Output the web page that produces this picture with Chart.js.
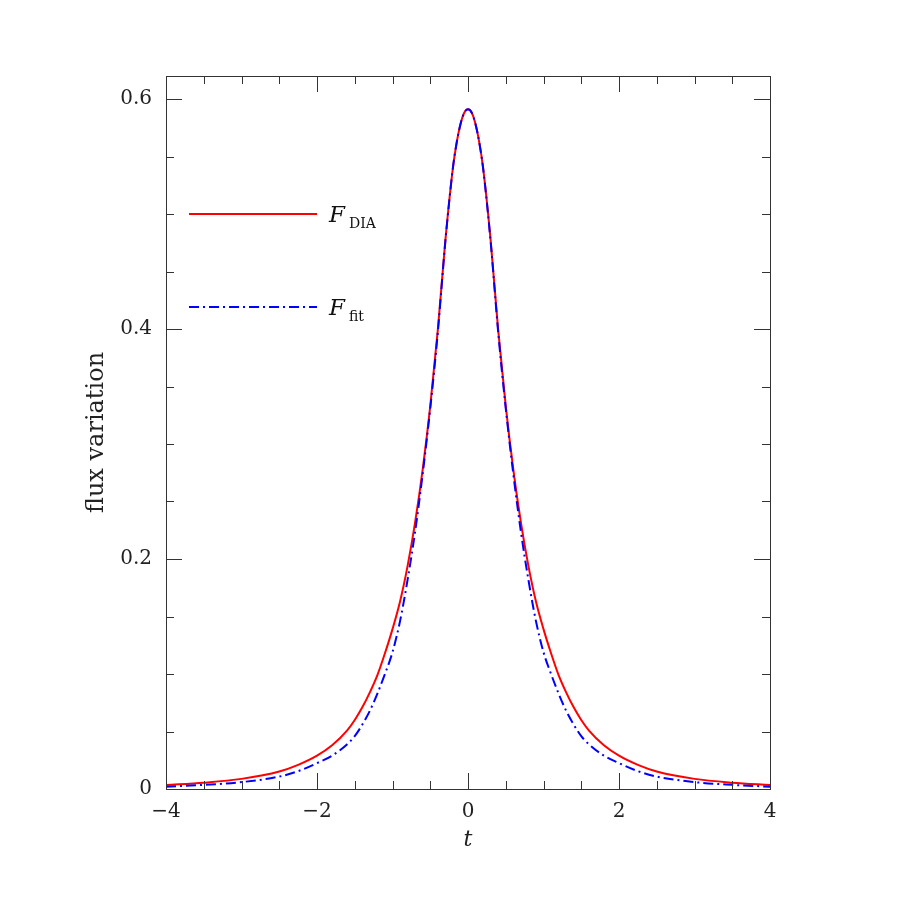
<!DOCTYPE html>
<html>
<head>
<meta charset="utf-8">
<title>flux variation</title>
<script src="https://cdn.jsdelivr.net/npm/chart.js@4/dist/chart.umd.min.js"></script>
<style>
  body { margin: 0; background: #fff }
  #wrap { width: 900px; height: 900px }
</style>
</head>
<body>
<div id="wrap"><canvas id="myChart" width="900" height="900"></canvas></div>
<script>
// valores
const tValues = [
  -4, -3.5, -3, -2.5, -2.25, -2, -1.8, -1.6, -1.5, -1.4, -1.3, -1.2, -1.1, -1,
  -0.9, -0.8, -0.7, -0.6, -0.5, -0.4, -0.3, -0.2, -0.15, -0.1, -0.05, 0,
  0.05, 0.1, 0.15, 0.2, 0.3, 0.4, 0.5, 0.6, 0.7, 0.8, 0.9, 1, 1.1, 1.2, 1.3,
  1.4, 1.5, 1.6, 1.8, 2, 2.25, 2.5, 3, 3.5, 4
]
const fluxDIA = [
  0.0035, 0.0055, 0.0088, 0.0152, 0.021, 0.029, 0.038, 0.051, 0.06, 0.071,
  0.084, 0.099, 0.118, 0.139, 0.163, 0.194, 0.232, 0.278, 0.333, 0.399, 0.477,
  0.54, 0.562, 0.578, 0.588, 0.591,
  0.588, 0.578, 0.562, 0.54, 0.477, 0.399, 0.333, 0.278, 0.232, 0.194, 0.163,
  0.139, 0.118, 0.099, 0.084, 0.071, 0.06, 0.051, 0.038, 0.029, 0.021, 0.0152,
  0.0088, 0.0055, 0.0035
]
const fluxFit = [
  0.002, 0.0036, 0.006, 0.0108, 0.0155, 0.0225, 0.029, 0.039, 0.046, 0.056,
  0.068, 0.083, 0.1, 0.119, 0.146, 0.182, 0.224, 0.274, 0.331, 0.397, 0.476,
  0.54, 0.562, 0.578, 0.588, 0.591,
  0.588, 0.578, 0.562, 0.54, 0.476, 0.397, 0.331, 0.274, 0.224, 0.182, 0.146,
  0.119, 0.1, 0.083, 0.068, 0.056, 0.046, 0.039, 0.029, 0.0225, 0.0155, 0.0108,
  0.006, 0.0036, 0.002
]

const xTickValues = [-4, -2, 0, 2, 4]
const xTickLabels = ['\u22124', '\u22122', '0', '2', '4']
const yTickValues = [0, 0.2, 0.4, 0.6]
const yTickLabels = ['0', '0.2', '0.4', '0.6']
const xMinorStep = 0.5
const yMinorStep = 0.05

const serif = '"DejaVu Serif", "Liberation Serif", serif'
const axisColor = '#333'

// caixa, marcas internas e legenda
const framePlugin = {
  id: 'frame',
  afterDraw(chart) {
    const ctx = chart.ctx
    const a = chart.chartArea
    const xs = chart.scales.x
    const ys = chart.scales.y
    ctx.save()
    ctx.strokeStyle = axisColor
    ctx.lineWidth = 1
    ctx.strokeRect(a.left + 0.5, a.top + 0.5, a.right - a.left, a.bottom - a.top)

    ctx.beginPath()
    for (let v = xs.min; v <= xs.max + 1e-9; v += xMinorStep) {
      const px = Math.round(xs.getPixelForValue(v)) + 0.5
      const len = xTickValues.includes(Math.round(v * 100) / 100) ? 16 : 8
      ctx.moveTo(px, a.bottom)
      ctx.lineTo(px, a.bottom - len)
      ctx.moveTo(px, a.top)
      ctx.lineTo(px, a.top + len)
    }
    for (let v = 0; v <= ys.max + 1e-9; v += yMinorStep) {
      const py = Math.round(ys.getPixelForValue(v)) + 0.5
      const len = yTickValues.includes(Math.round(v * 100) / 100) ? 16 : 8
      ctx.moveTo(a.left, py)
      ctx.lineTo(a.left + len, py)
      ctx.moveTo(a.right, py)
      ctx.lineTo(a.right - len, py)
    }
    ctx.stroke()

    // legenda
    const items = [
      { y: 214, color: '#ff0000', dash: [], sub: 'DIA' },
      { y: 307, color: '#0000ff', dash: [10, 4, 2, 4], sub: 'fit' }
    ]
    items.forEach(it => {
      ctx.strokeStyle = it.color
      ctx.lineWidth = 2
      ctx.setLineDash(it.dash)
      ctx.beginPath()
      ctx.moveTo(a.left + 23, it.y)
      ctx.lineTo(a.left + 151, it.y)
      ctx.stroke()
      ctx.setLineDash([])
      ctx.fillStyle = '#111'
      ctx.textBaseline = 'alphabetic'
      ctx.textAlign = 'left'
      ctx.font = 'italic 23px ' + serif
      ctx.fillText('F', a.left + 163, it.y + 8)
      ctx.font = '14px ' + serif
      ctx.fillText(it.sub, a.left + 183, it.y + 14)
    })
    ctx.restore()
  }
}

const ctx = document.getElementById('myChart').getContext('2d')

new Chart(ctx, {
  type: 'line',
  data: {
    datasets: [
      {
        label: 'F DIA',
        data: tValues.map((t, i) => ({ x: t, y: fluxDIA[i] })),
        borderColor: '#ff0000',
        borderWidth: 2,
        pointRadius: 0,
        cubicInterpolationMode: 'monotone',
        order: 1
      },
      {
        label: 'F fit',
        data: tValues.map((t, i) => ({ x: t, y: fluxFit[i] })),
        borderColor: '#0000ff',
        borderWidth: 2,
        borderDash: [10, 4, 2, 4],
        pointRadius: 0,
        cubicInterpolationMode: 'monotone',
        order: 0
      }
    ]
  },
  options: {
    responsive: false,
    animation: false,
    layout: { padding: { left: 0, top: 76, right: 130, bottom: 0 } },
    plugins: { legend: { display: false }, tooltip: { enabled: false } },
    scales: {
      x: {
        type: 'linear',
        min: -4,
        max: 4,
        afterBuildTicks: s => { s.ticks = xTickValues.map(v => ({ value: v })) },
        afterFit: s => { s.height = 111 },
        grid: { display: false, drawTicks: false },
        border: { display: false },
        ticks: {
          autoSkip: false,
          maxRotation: 0,
          padding: 11,
          color: '#222',
          font: { family: serif, size: 20 },
          callback: (v, i) => xTickLabels[i]
        },
        title: {
          display: true,
          text: 't',
          color: '#222',
          font: { family: serif, size: 22, style: 'italic' },
          padding: { top: 0, bottom: 47 }
        }
      },
      y: {
        min: 0,
        max: 0.62,
        afterBuildTicks: s => { s.ticks = yTickValues.map(v => ({ value: v })) },
        afterFit: s => { s.width = 166 },
        grid: { display: false, drawTicks: false },
        border: { display: false },
        ticks: {
          padding: 14,
          color: '#222',
          font: { family: serif, size: 20 },
          callback: (v, i) => yTickLabels[i]
        },
        title: {
          display: true,
          text: 'flux variation',
          color: '#222',
          font: { family: serif, size: 24 },
          padding: { top: 82, bottom: 0 }
        }
      }
    }
  },
  plugins: [framePlugin]
})
</script>
</body>
</html>
